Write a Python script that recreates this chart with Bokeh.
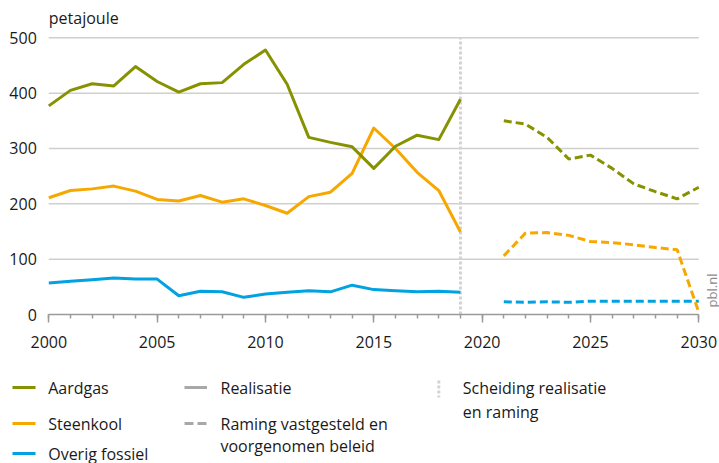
import math
from bokeh.plotting import figure
from bokeh.models import Range1d, FixedTicker, LinearAxis
from bokeh.core.properties import value
from bokeh.embed import file_html
from bokeh.resources import INLINE

# ---------------- data ----------------
years_hist = list(range(2000, 2020))
aardgas_hist = [377, 405, 417, 413, 448, 421, 402, 417, 419, 452, 478, 416, 320, 311, 303, 264, 304, 324, 316, 389]
steenkool_hist = [211, 224, 227, 232, 223, 208, 205, 215, 203, 209, 197, 183, 213, 221, 255, 337, 300, 257, 224, 149]
overig_hist = [57, 60, 63, 66, 64, 64, 34, 42, 41, 31, 37, 40, 43, 41, 53, 45, 43, 41, 42, 40]

years_proj = list(range(2021, 2031))
aardgas_proj = [350, 344, 320, 281, 288, 264, 236, 222, 209, 230]
steenkool_proj = [106, 147, 148, 143, 132, 130, 126, 121, 117, 4]
overig_proj = [23, 22, 23, 22, 24, 24, 24, 24, 24, 24]

split_year = 2019
x_ticks = [2000, 2005, 2010, 2015, 2020, 2025, 2030]
x_minor = list(range(2000, 2031))
y_ticks = [0, 100, 200, 300, 400, 500]
unit_label = "petajoule"
source_label = "pbl.nl"

series_names = ["Aardgas", "Steenkool", "Overig fossiel"]
colors = ["#869200", "#f7a800", "#00a2e1"]
grey_legend = "#a8a8a8"
sep_color = "#d3d3d3"

FONT = "Open Sans"
FS = "16px"

# ---------------- layout (pixels) ----------------
W, H = 719, 463
X0_PX, X1_PX = 48.3, 698.3      # pixel position of 2000 and 2030
Y0_PX, Y1_PX = 314.0, 37.3      # pixel position of 0 and 500

kx = (X1_PX - X0_PX) / (x_ticks[-1] - x_ticks[0])
ky = (Y0_PX - Y1_PX) / (y_ticks[-1] - y_ticks[0])
x_start = x_ticks[0] - X0_PX / kx
x_end = x_ticks[0] + (W - X0_PX) / kx
y_start = y_ticks[0] - (H - Y0_PX) / ky
y_end = y_ticks[0] + Y0_PX / ky

p = figure(width=W, height=H, output_backend="svg", toolbar_location=None,
           x_range=Range1d(x_start, x_end), y_range=Range1d(y_start, y_end),
           x_axis_location=None, y_axis_location=None, min_border=0)
p.outline_line_color = None
p.background_fill_color = "white"
p.border_fill_color = "white"
p.grid.visible = False
p.extra_x_ranges = {"px": Range1d(0, W)}
p.extra_y_ranges = {"px": Range1d(H, 0)}

# grid lines
gy = y_ticks[1:]
p.segment(x0=[x_ticks[0]] * len(gy), y0=gy, x1=[x_ticks[-1]] * len(gy), y1=gy,
          line_color="#cfcfcf", line_width=1.5)

# x axis
xa = LinearAxis(fixed_location=0, bounds=(x_ticks[0], x_ticks[-1]),
                ticker=FixedTicker(ticks=x_ticks, minor_ticks=x_minor))
xa.axis_line_color = "#9a9a9a"
xa.axis_line_width = 1.5
xa.major_tick_line_color = "#9a9a9a"
xa.major_tick_line_width = 1.5
xa.minor_tick_line_color = "#9a9a9a"
xa.minor_tick_line_width = 1.5
xa.major_tick_in = 0
xa.major_tick_out = 8
xa.minor_tick_in = 0
xa.minor_tick_out = 4
xa.major_label_standoff = 13
xa.major_label_text_font = FONT
xa.major_label_text_font_size = FS
xa.major_label_text_color = "#1a1a1a"
p.add_layout(xa, "below")

# y axis
ya = LinearAxis(fixed_location=x_ticks[0], bounds=(y_ticks[0], y_ticks[-1]),
                ticker=FixedTicker(ticks=y_ticks))
ya.axis_line_color = None
ya.major_tick_line_color = None
ya.minor_tick_line_color = None
ya.major_label_standoff = 6
ya.major_label_text_font = FONT
ya.major_label_text_font_size = FS
ya.major_label_text_color = "#1a1a1a"
p.add_layout(ya, "left")

# separator realisatie / raming
p.segment(x0=[split_year], y0=[y_ticks[0]], x1=[split_year], y1=[y_ticks[-1]],
          line_color=sep_color, line_width=3, line_dash="3 2")

hist = [aardgas_hist, steenkool_hist, overig_hist]
proj = [aardgas_proj, steenkool_proj, overig_proj]
for i in [2, 1, 0]:
    p.line(years_hist, hist[i], line_color=colors[i], line_width=3, line_join="round")
    p.line(years_proj, proj[i], line_color=colors[i], line_width=3, line_dash="8 4")

# unit label and source
txt = dict(text_font=value(FONT), text_font_size=FS, text_color="#1a1a1a",
           text_baseline="middle", x_range_name="px", y_range_name="px")
p.text(x=[48.3], y=[17.3], text=[unit_label], **txt)
p.text(x=[711], y=[290], text=[source_label], angle=math.pi / 2, text_align="center",
       text_baseline="middle", text_font=value(FONT), text_font_size="13px",
       text_color="#8a8a8a", x_range_name="px", y_range_name="px")

# ---------------- legend ----------------
rows = [387, 423, 453]
line_gap = 22
seg = dict(x_range_name="px", y_range_name="px")
for i, name in enumerate(series_names):
    p.segment(x0=[12], y0=[rows[i]], x1=[35], y1=[rows[i]], line_color=colors[i], line_width=3, **seg)
    p.text(x=[47.7], y=[rows[i]], text=[name], **txt)

p.segment(x0=[184], y0=[rows[0]], x1=[206.5], y1=[rows[0]], line_color=grey_legend, line_width=3, **seg)
p.text(x=[220], y=[rows[0]], text=["Realisatie"], **txt)
p.segment(x0=[184], y0=[rows[1]], x1=[206.5], y1=[rows[1]], line_color=grey_legend, line_width=3,
          line_dash="9 4", **seg)
p.text(x=[220, 220], y=[rows[1], rows[1] + line_gap],
       text=["Raming vastgesteld en", "voorgenomen beleid"], **txt)

p.segment(x0=[438.3], y0=[380], x1=[438.3], y1=[397], line_color=sep_color,
          line_width=3, line_dash="3 2", **seg)
p.text(x=[462.3, 462.3], y=[rows[0], rows[0] + 24], text=["Scheiding realisatie", "en raming"], **txt)

open("out.html", "w").write(file_html(p, INLINE))
